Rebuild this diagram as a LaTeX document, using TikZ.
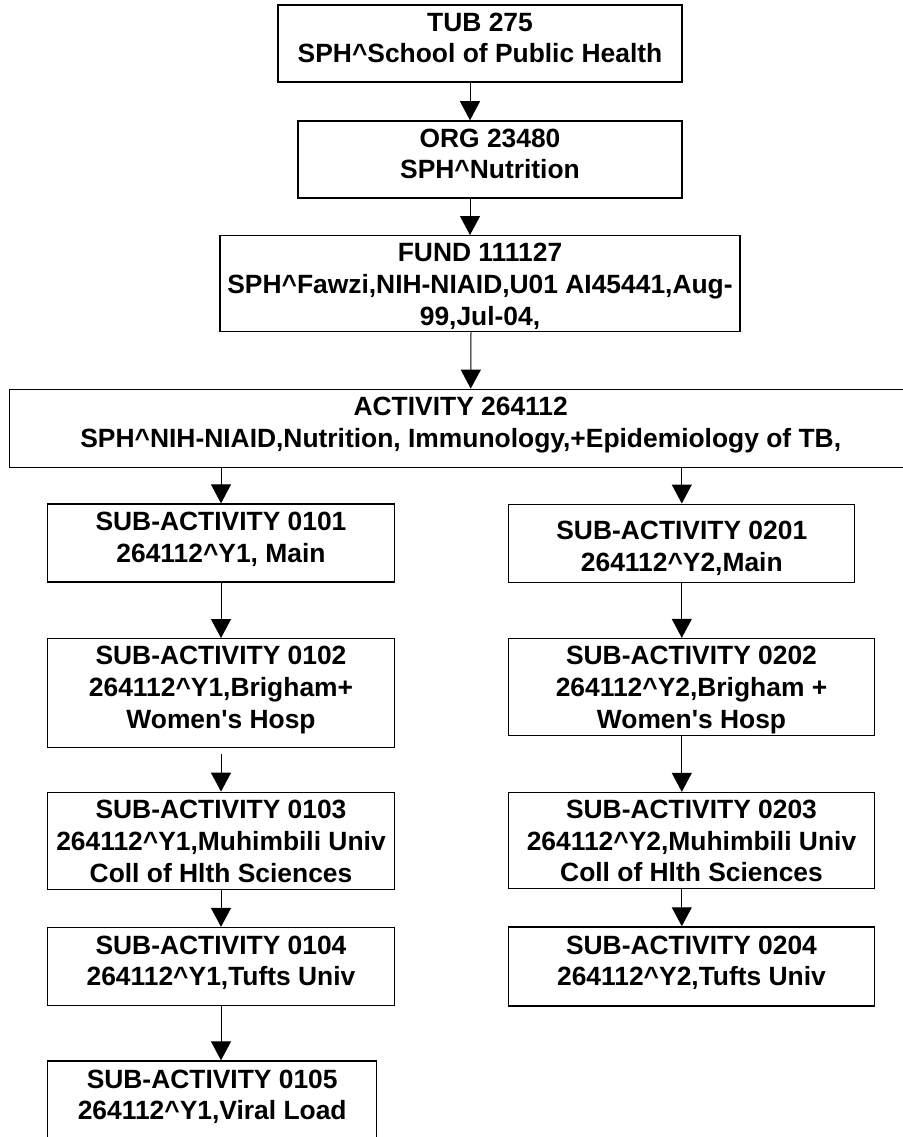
\documentclass[tikz,border=0pt]{standalone}
\usepackage{fontspec}
\setmainfont{Liberation Sans}
\def\hatc{\textasciicircum}
\def\apo{\textquotesingle}
\usetikzlibrary{arrows.meta,calc}

\begin{document}
\begin{tikzpicture}[
    x=1pt, y=-1pt,
    every node/.style={
        font=\fontsize{26.4}{31.8}\selectfont\bfseries,
    },
    box/.style={draw, line width=1.3pt, align=center, inner sep=0pt,
        text height=42.8pt, text depth=4pt},
    three/.style={text height=86.6pt},
    arr/.style={-{Triangle[width=20pt,length=19pt]}, line width=1pt},
]
    \useasboundingbox (0,0) rectangle (902,1137);
    \node[box, minimum width=404pt, minimum height=77pt] (tub) at (480,43.5)
        {TUB 275\\SPH\hatc School of Public Health};
    \node[box, minimum width=384pt, minimum height=77pt] (org) at (490,159.4)
        {ORG 23480\\SPH\hatc Nutrition};
    \node[box, three, minimum width=520pt, minimum height=96pt] (fund) at (480,283.7)
        {FUND 111127\\SPH\hatc Fawzi,NIH-NIAID,U01 AI45441,Aug-\\99,Jul-04,};
    \node[box, minimum width=903pt, minimum height=78pt] (act) at (460.7,428.3)
        {ACTIVITY 264112\\SPH\hatc NIH-NIAID,Nutrition, Immunology,+Epidemiology of TB,};
    \node[box, minimum width=347pt, minimum height=78pt] (s0101) at (221,543)
        {SUB-ACTIVITY 0101\\264112\hatc Y1, Main};
    \node[box, text height=73.6pt, minimum width=347pt, minimum height=109pt] (s0102) at (221,693.2)
        {SUB-ACTIVITY 0102\\264112\hatc Y1,Brigham+\\Women\apo s Hosp};
    \node[box, three, minimum width=347pt, minimum height=97pt] (s0103) at (221,840.8)
        {SUB-ACTIVITY 0103\\264112\hatc Y1,Muhimbili Univ\\Coll of Hlth Sciences};
    \node[box, minimum width=347pt, minimum height=78pt] (s0104) at (221,966.5)
        {SUB-ACTIVITY 0104\\264112\hatc Y1,Tufts Univ};
    \node[box, minimum width=329pt, minimum height=79pt] (s0105) at (212.2,1100.5)
        {SUB-ACTIVITY 0105\\264112\hatc Y1,Viral Load};
    \node[box, text height=60.8pt, minimum width=346pt, minimum height=78pt] (s0201) at (681.8,543.2)
        {SUB-ACTIVITY 0201\\264112\hatc Y2,Main};
    \node[box, three, minimum width=366pt, minimum height=97pt] (s0202) at (691.5,687)
        {SUB-ACTIVITY 0202\\264112\hatc Y2,Brigham +\\Women\apo s Hosp};
    \node[box, three, minimum width=366pt, minimum height=96pt] (s0203) at (691.5,840.5)
        {SUB-ACTIVITY 0203\\264112\hatc Y2,Muhimbili Univ\\Coll of Hlth Sciences};
    \node[box, minimum width=366pt, minimum height=79pt] (s0204) at (691.5,966.4)
        {SUB-ACTIVITY 0204\\264112\hatc Y2,Tufts Univ};
    \draw[arr] ($(tub.south)+(-10,0)$) -- ($(org.north)+(-20,0)$);
    \draw[arr] ($(org.south)+(-20,0)$) -- ($(fund.north)+(-10,0)$);
    \draw[arr] ($(fund.south)+(-9,0)$) -- ($(act.north)+(10,0)$);
    \draw[arr] (act.south -| s0101.north) -- (s0101.north);
    \draw[arr] (act.south -| s0201.north) -- (s0201.north);
    \draw[arr] (s0101.south) -- (s0102.north);
    \draw[arr, shorten <=6pt] (s0102.south) -- (s0103.north);
    \draw[arr] (s0103.south) -- (s0104.north);
    \draw[arr] (s0104.south) -- (s0104.south |- s0105.north);
    \draw[arr] (s0201.south) -- (s0201.south |- s0202.north);
    \draw[arr] (s0202.south -| s0201.south) -- (s0203.north -| s0201.south);
    \draw[arr] (s0203.south -| s0201.south) -- (s0204.north -| s0201.south);
\end{tikzpicture}
\end{document}
